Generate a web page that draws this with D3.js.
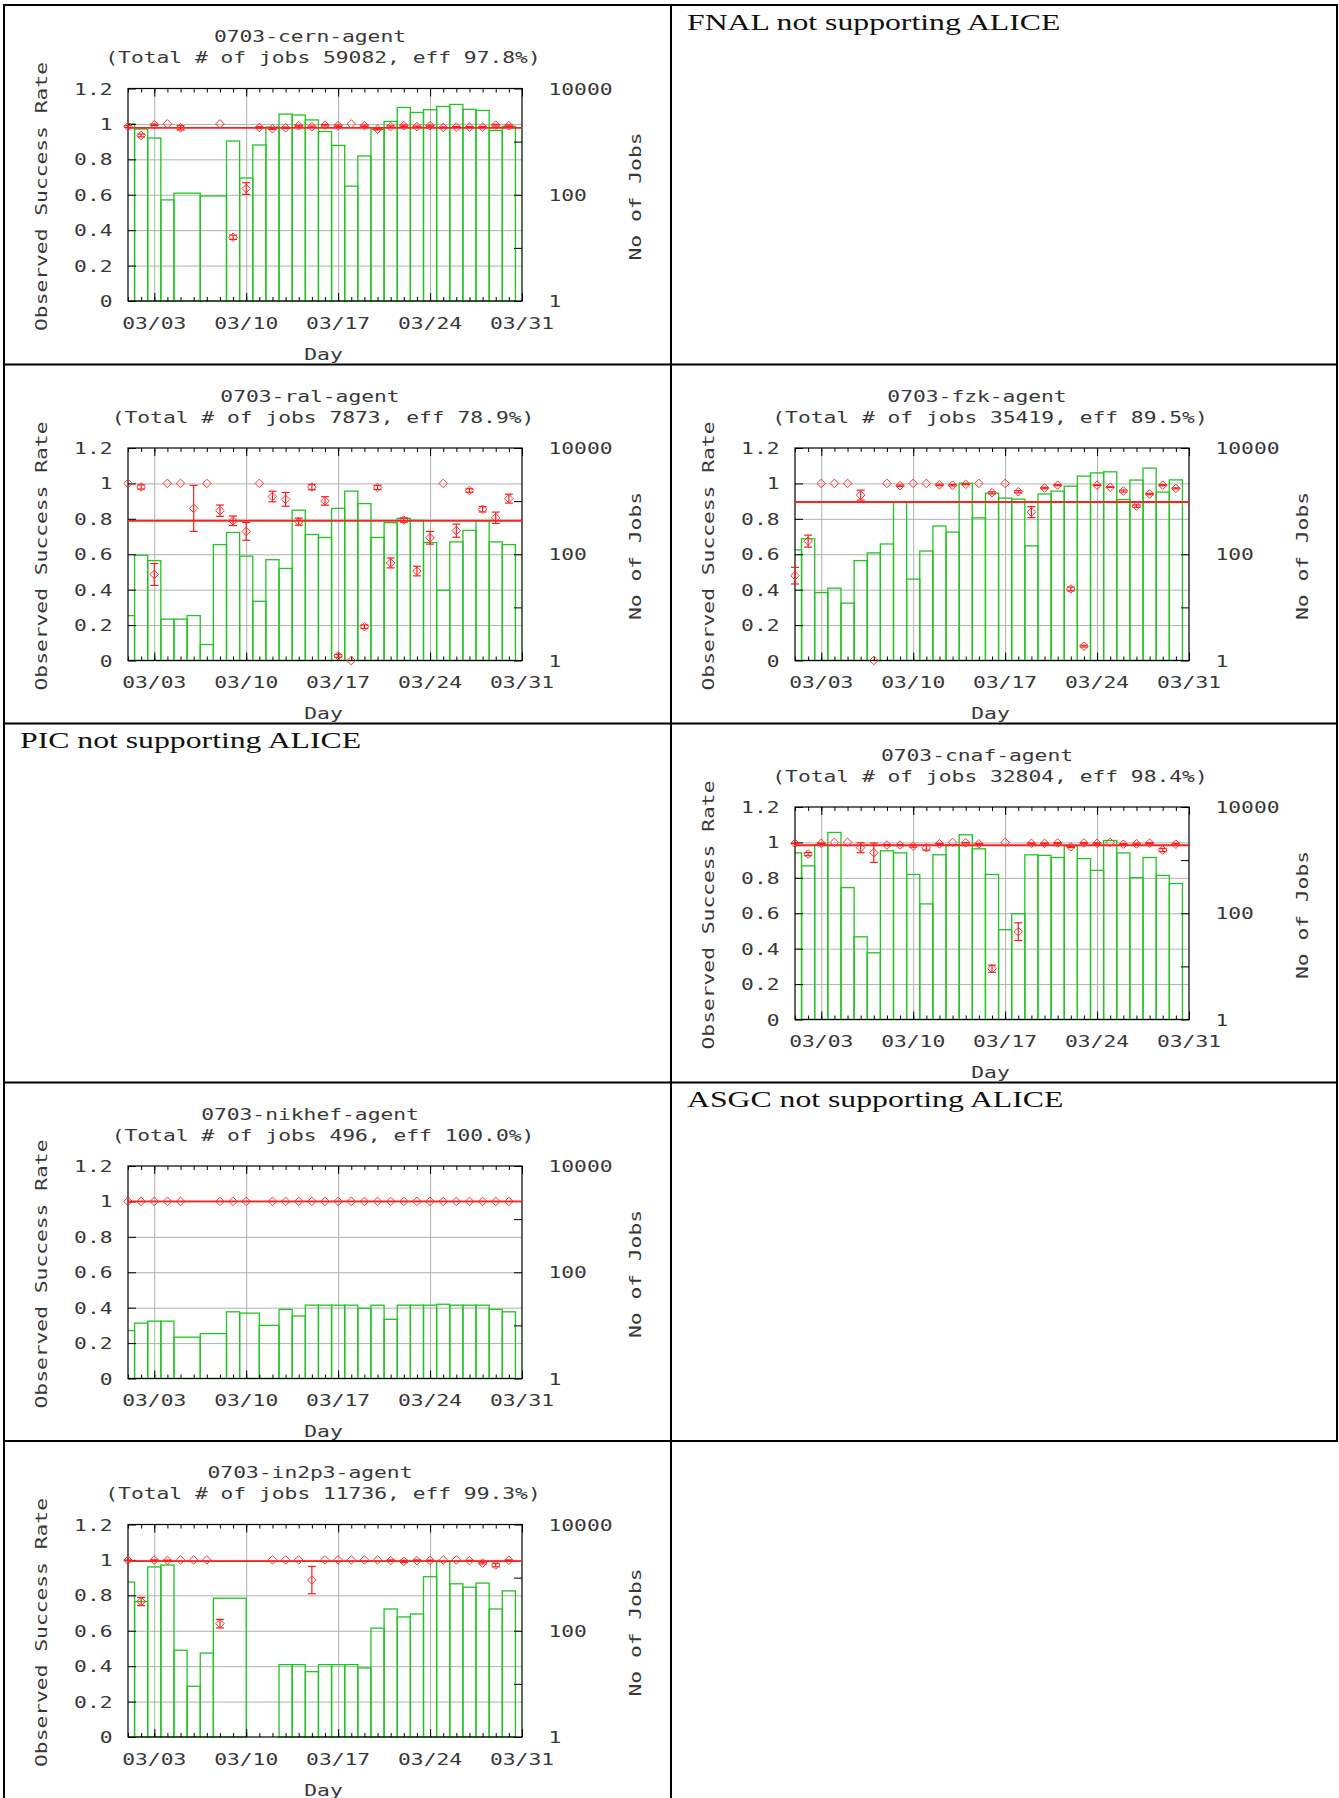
<!DOCTYPE html>
<html>
<head>
<meta charset="utf-8">
<script src="https://cdn.jsdelivr.net/npm/d3@7"></script>
<style>
body { margin: 0; background: #fff; }
</style>
</head>
<body>
<svg id="page"></svg>
<script>
// days of March 2007 shown on the x axis
var days = [1, 2, 3, 4, 5, 6, 7, 8, 9, 10, 11, 12, 13, 14, 15, 16, 17, 18, 19, 20, 21, 22, 23, 24, 25, 26, 27, 28, 29, 30];
var minorTickDays = [1, 2, 3, 4, 5, 6, 7, 8, 9, 10, 11, 12, 13, 14, 15, 16, 17, 18, 19, 20, 21, 22, 23, 24, 25, 26, 27, 28, 29, 30, 31];
var tickDays = [3, 10, 17, 24, 31];
var tickLabels = ["03/03", "03/10", "03/17", "03/24", "03/31"];
var rateTicks = [0, 0.2, 0.4, 0.6, 0.8, 1, 1.2];
var rateLabels = ["0", "0.2", "0.4", "0.6", "0.8", "1", "1.2"];
var jobTicks = [1, 10, 100, 1000, 10000];
var jobLabelValues = [1, 100, 10000];
var jobLabels = ["1", "100", "10000"];

// cern
var cernRate = [0.985, 0.935, 0.995, 1.0, 0.978, null, null, 1.0, 0.36, 0.635, 0.98, 0.973, 0.978, 0.99, 0.984, 0.993, 0.99, 1.0, 0.99, 0.97, 0.985, 0.99, 0.985, 0.99, 0.98, 0.982, 0.982, 0.982, 0.993, 0.99];
var cernErr = [0.005, 0.008, 0.004, 0, 0.012, null, null, 0, 0.012, 0.033, 0.004, 0.004, 0.004, 0.003, 0.004, 0.004, 0.004, 0, 0.004, 0.004, 0.004, 0.004, 0.003, 0.003, 0.003, 0.003, 0.003, 0.003, 0.005, 0.004];
var cernJobs = [2154, 1726, 1170, 80, 107, null, null, 95, 1025, 207, 865, 1880, 3300, 3170, 2560, 1550, 850, 145, 537, 1700, 2400, 4390, 3540, 3990, 4580, 5010, 4050, 3860, 1620, 1940];

// ral
var ralRate = [1.0, 0.98, 0.486, 1.0, 1.0, 0.859, 1.0, 0.846, 0.789, 0.729, 1.0, 0.926, 0.91, 0.784, 0.979, 0.901, 0.026, 0.0, 0.191, 0.977, 0.551, 0.793, 0.505, 0.693, 1.0, 0.733, 0.96, 0.854, 0.806, 0.914];
var ralErr = [0, 0.012, 0.062, 0, 0, 0.13, 0, 0.032, 0.027, 0.05, 0, 0.03, 0.039, 0.02, 0.015, 0.024, 0.008, 0, 0.01, 0.012, 0.028, 0.012, 0.027, 0.036, 0, 0.037, 0.01, 0.015, 0.032, 0.025];
var ralJobs = [7, 96, 76, 6, 6, 7, 2, 152, 257, 92, 13, 79, 54, 675, 235, 207, 730, 1540, 898, 207, 393, 474, 434, 166, 21, 171, 281, 427, 171, 152];

// fzk
var fzkRate = [0.479, 0.674, 1.0, 1.0, 1.0, 0.934, 0.0, 1.0, 0.987, 1.0, 1.0, 0.992, 0.99, 0.995, 1.0, 0.947, 1.0, 0.953, 0.838, 0.974, 0.99, 0.404, 0.081, 0.99, 0.979, 0.957, 0.872, 0.94, 0.99, 0.972];
var fzkErr = [0.047, 0.034, 0, 0, 0, 0.028, 0, 0, 0.004, 0, 0, 0.004, 0.004, 0.002, 0, 0.006, 0, 0.006, 0.031, 0.004, 0.003, 0.011, 0.005, 0.002, 0.002, 0.006, 0.007, 0.004, 0.003, 0.003];
var fzkJobs = [121, 195, 19, 23, 12, 76, 106, 156, 960, 34, 115, 340, 261, 2170, 484, 1410, 1140, 1090, 144, 1360, 1540, 1910, 2960, 3400, 3560, 1070, 2490, 4180, 1480, 2510];

// cnaf
var cnafRate = [0.995, 0.934, 0.995, 1.0, 1.0, 0.97, 0.942, 0.985, 0.985, 0.979, 0.97, 0.992, 1.0, 0.998, 0.992, 0.287, 1.0, 0.496, 0.995, 0.995, 0.997, 0.975, 0.997, 0.995, 1.0, 0.99, 0.992, 0.996, 0.957, 0.99];
var cnafErr = [0.002, 0.009, 0.002, 0, 0, 0.028, 0.055, 0.003, 0.003, 0.006, 0.014, 0.003, 0, 0.001, 0.002, 0.02, 0, 0.05, 0.002, 0.002, 0.002, 0.004, 0.002, 0.003, 0, 0.003, 0.004, 0.002, 0.009, 0.005];
var cnafJobs = [1370, 781, 1950, 3320, 304, 36, 18, 1500, 1370, 537, 150, 1260, 1950, 3000, 1630, 537, 49, 98, 1260, 1230, 1120, 1860, 1070, 640, 2340, 1370, 469, 1120, 515, 363];

// nikhef
var nikhefRate = [1, 1, 1, 1, 1, null, null, 1, 1, 1, null, 1, 1, 1, 1, 1, 1, 1, 1, 1, 1, 1, 1, 1, 1, 1, 1, 1, 1, 1];
var nikhefErr = [0, 0, 0, 0, 0, null, null, 0, 0, 0, null, 0, 0, 0, 0, 0, 0, 0, 0, 0, 0, 0, 0, 0, 0, 0, 0, 0, 0, 0];
var nikhefJobs = [8, 11, 12, 12, 6, null, null, 7, 18, 17, null, 10, 20, 15, 24, 24, 24, 24, 21, 24, 13, 24, 24, 24, 25, 24, 24, 24, 20, 18];

// in2p3
var in2p3Rate = [0.998, 0.765, 0.999, 0.997, 1.0, 1.0, 1.0, 0.64, null, null, null, 1.0, 1.0, 1.0, 0.886, 1.0, 1.0, 1.0, 1.0, 1.0, 0.996, 0.992, 0.996, 0.997, 1.0, 1.0, 0.996, 0.982, 0.971, 0.998];
var in2p3Err = [0.002, 0.023, 0.001, 0.002, 0, 0, 0, 0.024, null, null, null, 0, 0, 0, 0.077, 0, 0, 0, 0, 0, 0.004, 0.006, 0.004, 0.002, 0, 0, 0.002, 0.005, 0.01, 0.002];
var in2p3Jobs = [827, 355, 1590, 1730, 43, 9, 38, 410, null, null, null, 1, 23, 23, 17, 23, 23, 23, 20, 112, 257, 182, 207, 1040, 1990, 765, 660, 790, 257, 563];

var siteNames = ["0703-cern-agent", "0703-ral-agent", "0703-fzk-agent", "0703-cnaf-agent", "0703-nikhef-agent", "0703-in2p3-agent"];
var siteTotals = [59082, 7873, 35419, 32804, 496, 11736];
var siteEff = ["97.8", "78.9", "89.5", "98.4", "100.0", "99.3"];
var notes = ["FNAL not supporting ALICE", "PIC not supporting ALICE", "ASGC not supporting ALICE"];

var W = 1339, H = 1798;
var svg = d3.select("#page").attr("width", W).attr("height", H);

var colX = [4, 671, 1337];
var rowY = [5, 364.5, 723.5, 1082.5, 1441];

var monoFont = "DejaVu Sans Mono";

function txt(g, x, y, s, anchor, opts) {
  opts = opts || {};
  var sx = opts.sx || 1.29;
  var tr = "translate(" + x + "," + y + ")" + (opts.rot ? " rotate(" + opts.rot + ")" : "") + " scale(" + sx + ",1)";
  return g.append("text")
    .attr("transform", tr)
    .attr("text-anchor", anchor)
    .attr("font-family", opts.font || monoFont)
    .attr("font-size", opts.size || 16.5)
    .attr("fill", opts.fill || "#383838")
    .text(s);
}

function drawChart(cx, cy, k, rate, err, jobs) {
  var g = svg.append("g").attr("transform", "translate(" + cx + "," + cy + ")");
  var L = 124, T = 83.5, R = 518, B = 296;
  var x = d3.scaleLinear().domain([1, 31]).range([L, R]);
  var y = d3.scaleLinear().domain([0, 1.2]).range([B, T]);
  var yj = d3.scaleLog().domain([1, 10000]).range([B, T]);

  var clipId = "clip" + k;
  g.append("clipPath").attr("id", clipId)
    .append("rect").attr("x", L).attr("y", T - 2).attr("width", R - L).attr("height", B - T + 4);

  // grid
  var gh = g.append("g").attr("transform", "translate(" + L + ",0)")
    .call(d3.axisLeft(y).tickValues([0.2, 0.4, 0.6, 0.8, 1]).tickSize(-(R - L)).tickFormat(""));
  gh.select(".domain").remove();
  gh.selectAll("line").attr("stroke", "#b0b0b0").attr("stroke-width", 1);
  var gv = g.append("g").attr("transform", "translate(0," + B + ")")
    .call(d3.axisBottom(x).tickValues([3, 10, 17, 24]).tickSize(-(B - T)).tickFormat(""));
  gv.select(".domain").remove();
  gv.selectAll("line").attr("stroke", "#b0b0b0").attr("stroke-width", 1);

  // job count boxes, each reaching halfway to its neighbours
  var pts = [];
  days.forEach(function (d, i) {
    if (jobs[i] != null) pts.push({ d: d, n: jobs[i] });
  });
  pts.forEach(function (p, i) {
    var prev = pts[i - 1], next = pts[i + 1];
    p.x0 = prev ? (prev.d + p.d) / 2 : p.d - (next.d - p.d) / 2;
    p.x1 = next ? (p.d + next.d) / 2 : p.d + (p.d - prev.d) / 2;
  });
  g.append("g").attr("clip-path", "url(#" + clipId + ")")
    .selectAll("rect").data(pts).join("rect")
    .attr("x", function (p) { return x(p.x0); })
    .attr("width", function (p) { return x(p.x1) - x(p.x0); })
    .attr("y", function (p) { return yj(p.n); })
    .attr("height", function (p) { return B - yj(p.n); })
    .attr("fill", "none")
    .attr("stroke", "#22c422")
    .attr("stroke-width", 1.3);

  // frame
  g.append("rect").attr("x", L).attr("y", T).attr("width", R - L).attr("height", B - T)
    .attr("fill", "none").attr("stroke", "#000").attr("stroke-width", 1.2);

  // tick marks
  function ticks(axis, tx, ty) {
    var a = g.append("g").attr("transform", "translate(" + tx + "," + ty + ")").call(axis);
    a.select(".domain").remove();
    a.selectAll("line").attr("stroke", "#000").attr("stroke-width", 1);
  }
  ticks(d3.axisLeft(y).tickValues(rateTicks).tickSize(-8).tickFormat(""), L, 0);
  ticks(d3.axisRight(yj).tickValues(jobTicks).tickSize(-8).tickFormat(""), R, 0);
  ticks(d3.axisBottom(x).tickValues(minorTickDays).tickSize(-4).tickFormat(""), 0, B);
  ticks(d3.axisBottom(x).tickValues(tickDays).tickSize(-8).tickFormat(""), 0, B);
  ticks(d3.axisTop(x).tickValues(minorTickDays).tickSize(-4).tickFormat(""), 0, T);
  ticks(d3.axisTop(x).tickValues(tickDays).tickSize(-8).tickFormat(""), 0, T);

  // overall efficiency
  var eff = +siteEff[k] / 100;
  g.append("line").attr("x1", L).attr("x2", R).attr("y1", y(eff)).attr("y2", y(eff))
    .attr("stroke", "#ff2020").attr("stroke-width", 1.8);

  // success rate points
  var rp = [];
  days.forEach(function (d, i) {
    if (rate[i] != null) rp.push({ d: d, r: rate[i], e: err[i] || 0 });
  });
  var eb = g.append("g").attr("stroke", "#ff1a1a").attr("stroke-width", 1.2);
  rp.filter(function (p) { return p.e > 0; }).forEach(function (p) {
    var px = x(p.d), y0 = y(p.r - p.e), y1 = y(p.r + p.e);
    eb.append("line").attr("x1", px).attr("x2", px).attr("y1", y0).attr("y2", y1);
    eb.append("line").attr("x1", px - 4).attr("x2", px + 4).attr("y1", y0).attr("y2", y0);
    eb.append("line").attr("x1", px - 4).attr("x2", px + 4).attr("y1", y1).attr("y2", y1);
  });
  g.append("g").selectAll("path").data(rp).join("path")
    .attr("d", function (p) {
      var px = x(p.d), py = y(p.r), s = 4.3;
      return "M" + px + "," + (py - s) + "L" + (px + s) + "," + py + "L" + px + "," + (py + s) + "L" + (px - s) + "," + py + "Z";
    })
    .attr("fill", "none").attr("stroke", "#ff3030").attr("stroke-width", 1);

  // texts
  txt(g, 306, 37.3, siteNames[k], "middle");
  txt(g, 319, 58.3, "(Total # of jobs " + siteTotals[k] + ", eff " + siteEff[k] + "%)", "middle");
  rateTicks.forEach(function (v, i) { txt(g, 108.5, y(v) + 6, rateLabels[i], "end"); });
  jobLabelValues.forEach(function (v, i) { txt(g, 544.5, yj(v) + 6, jobLabels[i], "start"); });
  tickDays.forEach(function (d, i) { txt(g, x(d), 323.5, tickLabels[i], "middle"); });
  txt(g, 319.5, 354.5, "Day", "middle");
  txt(g, 42.5, 191.5, "Observed Success Rate", "middle", { rot: -90 });
  txt(g, 637, 191.5, "No of Jobs", "middle", { rot: -90 });
}

function drawNote(cx, cy, s) {
  txt(svg, cx + 16, cy + 24.5, s, "start", { font: "Liberation Serif", size: 23, sx: 1.38, fill: "#111" });
}

// table grid
var grid = svg.append("g").attr("stroke", "#000").attr("stroke-width", 2);
rowY.forEach(function (ry) {
  grid.append("line").attr("x1", colX[0] - 1).attr("x2", colX[2] + 1).attr("y1", ry).attr("y2", ry);
});
grid.append("line").attr("x1", colX[0]).attr("x2", colX[0]).attr("y1", rowY[0]).attr("y2", H);
grid.append("line").attr("x1", colX[1]).attr("x2", colX[1]).attr("y1", rowY[0]).attr("y2", H);
grid.append("line").attr("x1", colX[2]).attr("x2", colX[2]).attr("y1", rowY[0]).attr("y2", rowY[4]);

drawChart(colX[0], rowY[0], 0, cernRate, cernErr, cernJobs);
drawNote(colX[1], rowY[0], notes[0]);
drawChart(colX[0], rowY[1], 1, ralRate, ralErr, ralJobs);
drawChart(colX[1], rowY[1], 2, fzkRate, fzkErr, fzkJobs);
drawNote(colX[0], rowY[2], notes[1]);
drawChart(colX[1], rowY[2], 3, cnafRate, cnafErr, cnafJobs);
drawChart(colX[0], rowY[3], 4, nikhefRate, nikhefErr, nikhefJobs);
drawNote(colX[1], rowY[3], notes[2]);
drawChart(colX[0], rowY[4], 5, in2p3Rate, in2p3Err, in2p3Jobs);
</script>
</body>
</html>
